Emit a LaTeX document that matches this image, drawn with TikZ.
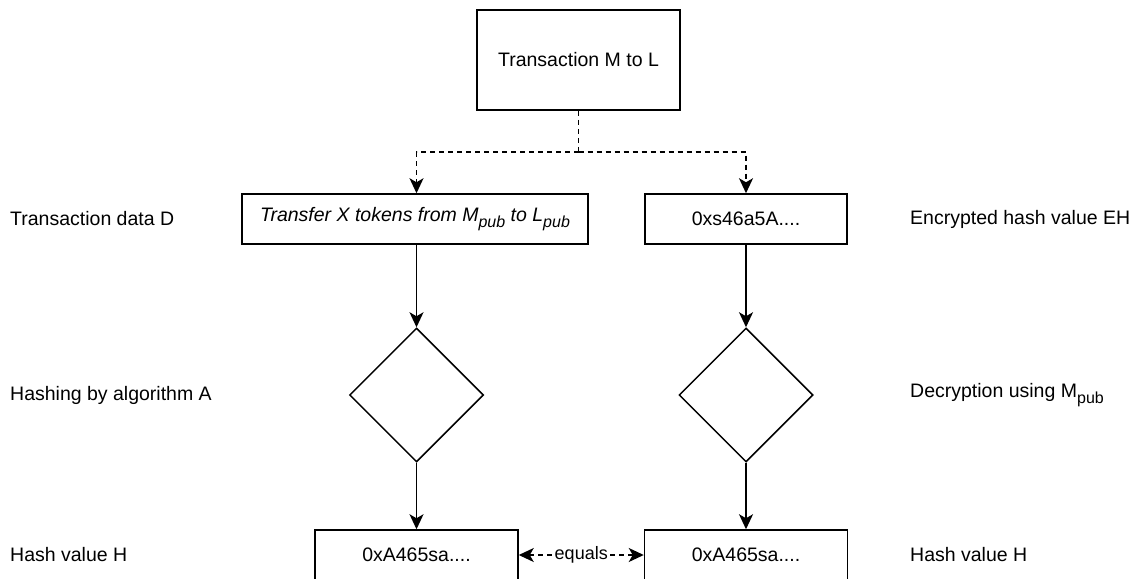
\documentclass[tikz,border=0pt]{standalone}
\usepackage{fontspec}
\setmainfont{Liberation Sans}
\usepackage{tikz}
\usetikzlibrary{shapes.geometric, arrows.meta}
\tikzstyle{arrow} = [line width=1.5pt,-{Stealth[length=15pt,width=14pt,inset=4pt]}]
\tikzstyle{dasharrow} = [arrow, dash pattern=on 5pt off 4pt]
\tikzstyle{box} = [draw, line width=1.5pt, minimum width=203pt, minimum height=50pt, inner sep=0pt]
\tikzstyle{decision} = [draw, diamond, line width=1.5pt, minimum width=134pt, minimum height=134pt, inner sep=0pt]
\tikzstyle{label} = [anchor=west, inner sep=0pt]
\newcommand{\pubidx}{\raisebox{-0.28em}{\fontsize{16}{16}\selectfont pub}}

\begin{document}
\begin{tikzpicture}[x=1pt, y=-1pt, every node/.style={font=\fontsize{19.5}{23}\selectfont}]

        \useasboundingbox (0,0) rectangle (1147,578);

        % Transaction
        \node at (578.5,60) [box, minimum height=100pt] (trans) {Transaction M to L};
        \coordinate (split) at (578.5,152);

        % Left column
        \node at (415,219) [box, minimum width=346pt] (data) {\itshape Transfer X tokens from M\pubidx{} to L\pubidx};
        \node at (416.5,395) [decision] (hash) {};
        \node at (416.5,555) [box] (hval) {0xA465sa....};

        % Right column
        \node at (746,219) [box, minimum width=202pt] (enc) {0xs46a5A....};
        \node at (746,395) [decision] (decrypt) {};
        \node at (746,555) [box] (dval) {0xA465sa....};

        % Labels left
        \node at (10,219) [label] (lD) {Transaction data D};
        \node at (10,395) [label] (lA) {Hashing by algorithm A};
        \node at (10,555) [label] (lH) {Hash value H};

        % Labels right
        \node at (910,219) [label] (lEH) {Encrypted hash value EH};
        \node at (910,395) [label] (lM) {Decryption using M\pubidx};
        \node at (910,555) [label] (lH2) {Hash value H};

        % Dashed split
        \draw [line width=1.5pt, dash pattern=on 5pt off 4pt] (trans.south) -- (split);
        \draw [dasharrow] (split) -| (data.north -| hash.north);
        \draw [dasharrow] (split) -| (enc.north);

        % Hashing
        \draw [arrow] (data.south -| hash.north) -- (hash.north);
        \draw [arrow] (hash.south) -- (hval.north);

        % Decryption
        \draw [arrow] (enc.south -| decrypt.north) -- (decrypt.north);
        \draw [arrow] (decrypt.south) -- (dval.north);

        % Equals
        \draw [dasharrow, {Stealth[length=15pt,width=14pt,inset=4pt]}-{Stealth[length=15pt,width=14pt,inset=4pt]}] (hval.east) -- node [fill=white, inner sep=1pt, font=\fontsize{18}{21}\selectfont] (eq) {equals} (dval.west);

\end{tikzpicture}
\end{document}
